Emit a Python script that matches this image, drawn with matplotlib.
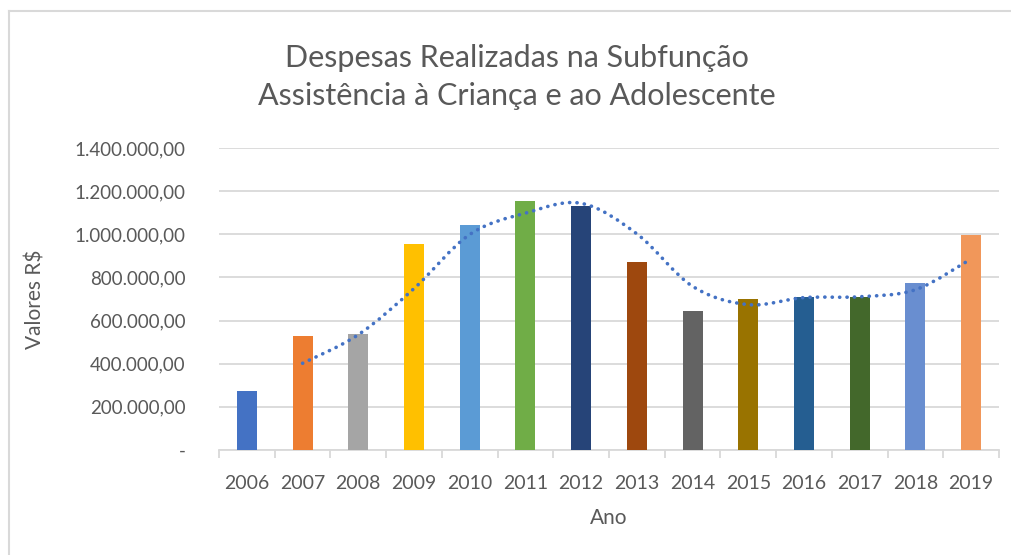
import matplotlib
matplotlib.use("Agg")
import matplotlib.pyplot as plt
import numpy as np
import pandas as pd
from matplotlib.path import Path
from matplotlib.patches import PathPatch
from matplotlib.lines import Line2D
from matplotlib.ticker import FuncFormatter, MultipleLocator, FixedLocator

plt.rcParams['font.family'] = ['Lato', 'DejaVu Sans']

years = ['2006', '2007', '2008', '2009', '2010', '2011', '2012',
         '2013', '2014', '2015', '2016', '2017', '2018', '2019']
values = [275000, 529000, 540000, 957000, 1041000, 1155000, 1132000,
          872000, 646000, 702000, 711000, 710000, 776000, 996000]
colors = ['#4472C4', '#ED7D31', '#A5A5A5', '#FFC000', '#5B9BD5', '#70AD47',
          '#264478', '#9E480E', '#636363', '#997300', '#255E91', '#43682B',
          '#698ED0', '#F1975A']

title = 'Despesas Realizadas na Subfunção\nAssistência à Criança e ao Adolescente'
text_color = '#595959'

W, H = 1011, 555
fig = plt.figure(figsize=(W / 100, H / 100), dpi=100)
ax = fig.add_axes([219 / W, (H - 450) / H, 780 / W, 302 / H])

x = np.arange(len(years))
ax.bar(x, values, width=0.36, color=colors, zorder=3)

# 2-period moving average trendline, smoothed
ma = pd.Series(values).rolling(2).mean().to_numpy()
mx = x[1:].astype(float)
my = ma[1:]
verts = [(mx[0], my[0])]
codes = [Path.MOVETO]
n = len(mx)
for i in range(n - 1):
    p0 = (mx[max(i - 1, 0)], my[max(i - 1, 0)])
    p1 = (mx[i], my[i])
    p2 = (mx[i + 1], my[i + 1])
    p3 = (mx[min(i + 2, n - 1)], my[min(i + 2, n - 1)])
    t = 1 / 6
    c1 = (p1[0] + (p2[0] - p0[0]) * t, p1[1] + (p2[1] - p0[1]) * t)
    c2 = (p2[0] - (p3[0] - p1[0]) * t, p2[1] - (p3[1] - p1[1]) * t)
    verts += [c1, c2, p2]
    codes += [Path.CURVE4] * 3
patch = PathPatch(Path(verts, codes), fill=False, edgecolor='#4472C4',
                  linewidth=2.6, linestyle=(0, (0.05, 2.0)),
                  capstyle='round', zorder=4)
ax.add_patch(patch)

ax.set_xlim(-0.5, len(years) - 0.5)
ax.set_ylim(0, 1400000)
ax.yaxis.set_major_locator(MultipleLocator(200000))

def fmt(v, pos):
    if v == 0:
        return '-'
    s = f"{int(v):,}".replace(',', '.')
    return s + ',00'

ax.yaxis.set_major_formatter(FuncFormatter(fmt))
ax.grid(axis='y', color='#D9D9D9', linewidth=1.3, zorder=0)
ax.set_axisbelow(True)

ax.set_xticks(x)
ax.set_xticklabels(years)
ax.xaxis.set_minor_locator(FixedLocator(np.arange(-0.5, len(years), 1.0)))
ax.tick_params(axis='x', which='major', length=0, pad=18, labelsize=14,
               labelcolor=text_color)
ax.tick_params(axis='x', which='minor', length=6, width=1.3, color='#D9D9D9')
ax.tick_params(axis='y', length=0, pad=24, labelsize=13.5, labelcolor=text_color)

for s in ['top', 'right', 'left']:
    ax.spines[s].set_visible(False)
ax.spines['bottom'].set_color('#D9D9D9')
ax.spines['bottom'].set_linewidth(1.3)

ax.set_xlabel('Ano', fontsize=15, color=text_color)
ax.xaxis.set_label_coords(0.5, -(518 - 450) / 302)
ax.xaxis.label.set_va('center')
ax.set_ylabel('Valores R$', fontsize=15, color=text_color)
ax.yaxis.set_label_coords(-(219 - 35) / 780, 0.5)
ax.yaxis.label.set_va('center')

fig.text(517 / W, 1 - 77 / H, title, ha='center', va='center',
         fontsize=22, color=text_color, linespacing=1.42)

# chart area border (top and left visible)
fig.add_artist(Line2D([9 / W, 1], [1 - 11 / H, 1 - 11 / H], color='#D9D9D9',
                      linewidth=1.5, transform=fig.transFigure))
fig.add_artist(Line2D([9 / W, 9 / W], [0, 1 - 11 / H], color='#D9D9D9',
                      linewidth=1.5, transform=fig.transFigure))

fig.savefig('out.png', dpi=100)
